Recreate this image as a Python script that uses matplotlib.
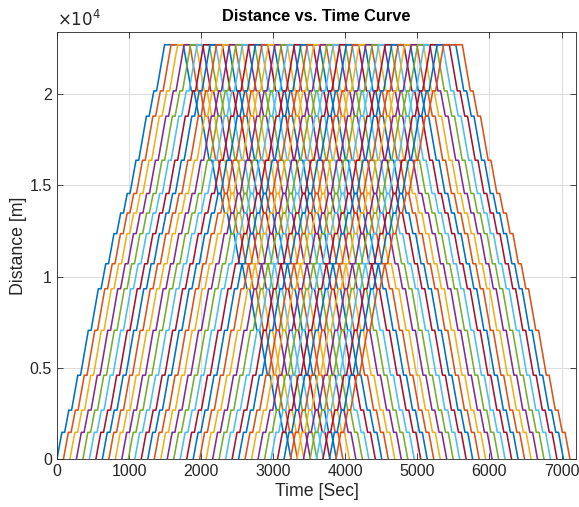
import numpy as np
import matplotlib.pyplot as plt
from matplotlib.ticker import FuncFormatter

# station positions along the line [m]
stations = [0, 1460, 2680, 4590, 7050, 9330, 10700, 12350, 13480,
            14550, 16370, 18790, 20170, 22700]
# running time between consecutive stations [s]
run_times = [68, 59, 86, 108, 101, 65, 76, 55, 53, 83, 107, 65, 111]
dwell = 38          # stop at intermediate stations [s]
turnaround = 260    # stop at far terminal [s]

# departure times of the trains from the first station [s]
departures = [0, 90, 180, 270, 360, 450, 540, 630, 720, 810, 900, 990,
              1080, 1170, 1260, 1350, 1440, 1530, 1620, 1710, 1800, 1890,
              1980, 2070, 2160, 2250, 2340, 2430, 2520, 2610, 2700, 2790,
              2880, 2970, 3060, 3150, 3240, 3330, 3420, 3510, 3600, 3690,
              3780, 3870]

colors = ['#0072BD', '#D95319', '#EDB120', '#7E2F8E',
          '#77AC30', '#4DBEEE', '#A2142F']

plt.rcParams['font.family'] = ['Liberation Sans', 'DejaVu Sans']


def trip(t0):
    t = t0
    ts, xs = [t], [stations[0]]
    n = len(run_times)
    # outbound
    for k in range(n):
        t += run_times[k]
        ts.append(t); xs.append(stations[k + 1])
        if k < n - 1:
            t += dwell
            ts.append(t); xs.append(stations[k + 1])
    t += turnaround
    ts.append(t); xs.append(stations[-1])
    # return
    for k in range(n - 1, -1, -1):
        t += run_times[k]
        ts.append(t); xs.append(stations[k])
        if k > 0:
            t += dwell
            ts.append(t); xs.append(stations[k])
    return ts, xs


fig = plt.figure(figsize=(5.79, 5.07), dpi=100)
ax = fig.add_axes([0.0984, 0.0947, 0.8964, 0.8422])

for i, t0 in enumerate(departures):
    ts, xs = trip(t0)
    ax.plot(ts, xs, color=colors[i % len(colors)], lw=1.15)

ax.set_xlim(0, 7200)
ax.set_ylim(0, 23400)
ax.set_xticks(np.arange(0, 7001, 1000))
ax.set_yticks([0, 5000, 10000, 15000, 20000])
ax.yaxis.set_major_formatter(FuncFormatter(lambda v, p: '%g' % (v / 1e4)))

ax.grid(True, color='#dcdcdc', lw=0.7)
ax.set_axisbelow(True)
ax.tick_params(direction='in', top=True, right=True, length=4,
               colors='#262626', labelsize=11.5, width=0.6)
for s in ax.spines.values():
    s.set_color('#262626')
    s.set_linewidth(0.6)

ax.text(0.0, 1.006, r'$\times10^{4}$', transform=ax.transAxes,
        fontsize=12, color='#262626', ha='left', va='bottom')
ax.set_title('Distance vs. Time Curve', fontsize=11.8, fontweight='bold',
             color='black', pad=8)
ax.set_xlabel('Time [Sec]', fontsize=12.8, color='#262626', labelpad=3)
ax.set_ylabel('Distance [m]', fontsize=12.8, color='#262626', labelpad=2)

fig.savefig('out.png', dpi=100)
